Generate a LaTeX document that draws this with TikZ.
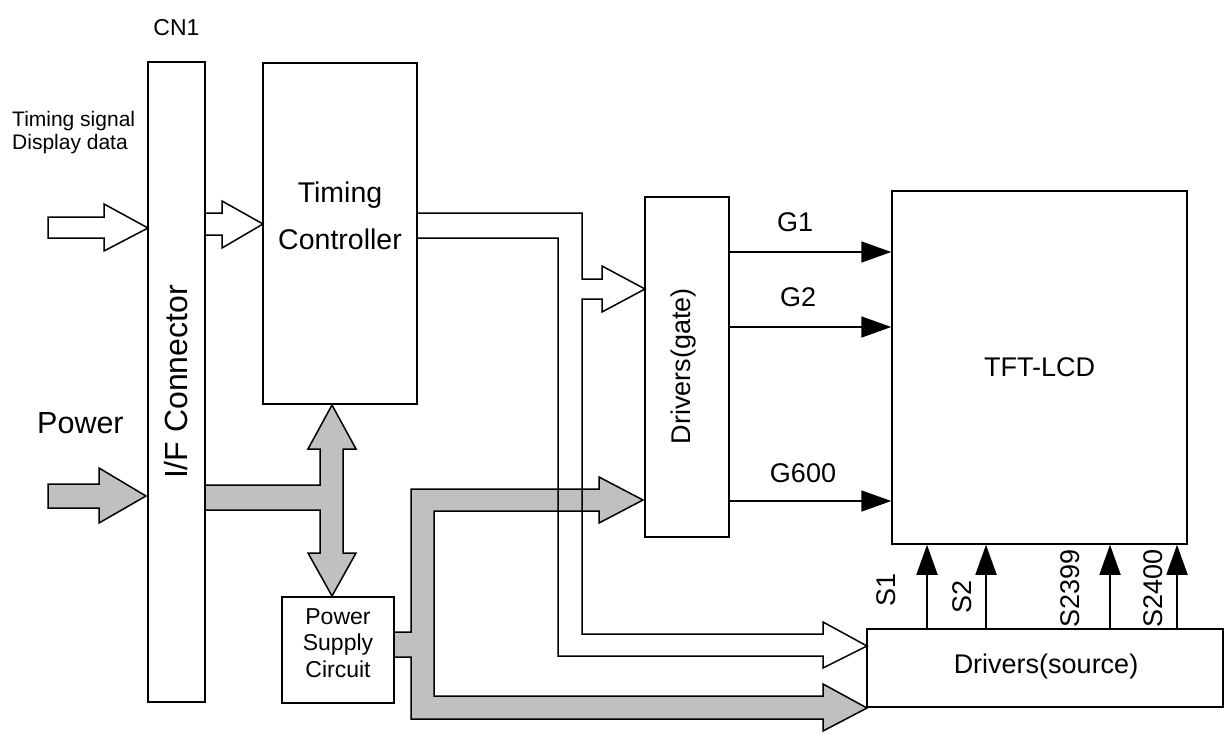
\documentclass[tikz,border=0pt]{standalone}
\usepackage{fontspec}
\setmainfont{Liberation Sans}
\usetikzlibrary{arrows.meta,positioning,calc}
\definecolor{PwrGray}{RGB}{192,192,192}
\tikzset{
  blk/.style={draw=black,line width=1.5pt,fill=white,inner sep=0pt},
  lbl/.style={inner sep=0pt,font=\fontsize{27}{32}\selectfont},
  sig/.style={-{Triangle[length=30pt,width=21pt]},line width=1.8pt},
  bus/.style={draw=black,line width=1.5pt},
  hollow/.style={bus,fill=white},
  pwr/.style={bus,fill=PwrGray},
}

\begin{document}
\begin{tikzpicture}[x=1pt,y=-1pt]
  \useasboundingbox (0,0) rectangle (1225,734);
  % blocks
  \node[blk,minimum width=57pt,minimum height=640pt] (ifc) at (176.5,382) {};
  \node[blk,minimum width=154pt,minimum height=341pt] (tcon) at (340,233.5) {};
  \node[blk,minimum width=84pt,minimum height=340pt] (gate) at (687,367) {};
  \node[blk,minimum width=295pt,minimum height=353pt] (lcd) at (1039.5,367.5) {};
  \node[blk,minimum width=356pt,minimum height=78pt] (src) at (1045,668) {};
  \node[blk,minimum width=112pt,minimum height=106pt] (psc) at (338,650) {};
  % block texts
  \node[lbl,rotate=90,font=\fontsize{32}{38}\selectfont] (ifctxt) at (ifc.center) {I/F Connector};
  \node[lbl,align=center,font=\fontsize{28.5}{47}\selectfont] (tcontxt) at (340,216) {Timing\\Controller};
  \node[lbl,rotate=90] (gatetxt) at (684,366) {Drivers(gate)};
  \node[lbl] (lcdtxt) at (lcd.center) {TFT-LCD};
  \node[lbl] (srctxt) at (1046,666) {Drivers(source)};
  \node[lbl,align=center,font=\fontsize{23}{26.5}\selectfont] (psctxt) at (338,643) {Power\\Supply\\Circuit};
  \node[lbl,font=\fontsize{23}{28}\selectfont] (cn1) at (176.5,27.5) {CN1};
  \node[lbl,anchor=base west,align=left,font=\fontsize{21}{23}\selectfont] (intxt) at (12,149) {Timing signal\\Display data};
  \node[lbl,anchor=west,font=\fontsize{30.5}{36}\selectfont] (pwrtxt) at (37,423) {Power};

  % power (grey) busses
  \draw[pwr] (48,484) -- (99,484) -- (99,468) -- (146,496) -- (99,523) -- (99,508) -- (48,508) -- cycle;
  \draw[pwr] (205,485) -- (320,485) -- (320,449) -- (308,449) -- (332,405) -- (356,449) -- (343,449)
    -- (343,553) -- (356,553) -- (332,596) -- (308,553) -- (320,553) -- (320,510) -- (205,510) -- cycle;
  \draw[pwr] (394,632) -- (411,632) -- (411,489) -- (599,489) -- (599,477) -- (643,500) -- (599,523)
    -- (599,511) -- (434,511) -- (434,696) -- (823,696) -- (823,684) -- (867,708) -- (823,731)
    -- (823,719) -- (411,719) -- (411,657) -- (394,657) -- cycle;

  % signal (hollow) busses
  \draw[hollow] (48,217) -- (104,217) -- (104,204) -- (148,228) -- (104,251) -- (104,238) -- (48,238) -- cycle;
  \draw[hollow] (205,213) -- (222,213) -- (222,201) -- (263,224) -- (222,248) -- (222,235) -- (205,235) -- cycle;
  \draw[bus] (417,213) -- (582,213) -- (582,279) -- (602,279) -- (602,266) -- (645,289) -- (602,312)
    -- (602,299) -- (582,299) -- (582,634) -- (823,634) -- (823,622) -- (867,646) -- (823,668)
    -- (823,656) -- (558,656) -- (558,238) -- (417,238);

  % gate lines
  \draw[sig] (gate.east |- 0,252) -- (lcd.west |- 0,252);
  \draw[sig] (gate.east |- 0,327) -- (lcd.west |- 0,327);
  \draw[sig] (gate.east |- 0,501) -- (lcd.west |- 0,501);
  \node[lbl] (g1) at (795,222) {G1};
  \node[lbl] (g2) at (798,297) {G2};
  \node[lbl] (g600) at (803,473) {G600};

  % source lines
  \foreach \x in {927,986,1110,1177}
    \draw[sig] (src.north -| \x,0) -- (lcd.south -| \x,0);
  \node[lbl,rotate=90] (s1) at (886,590) {S1};
  \node[lbl,rotate=90] (s2) at (962,597) {S2};
  \node[lbl,rotate=90] (s2399) at (1070,588) {S2399};
  \node[lbl,rotate=90] (s2400) at (1153,588) {S2400};
\end{tikzpicture}
\end{document}
